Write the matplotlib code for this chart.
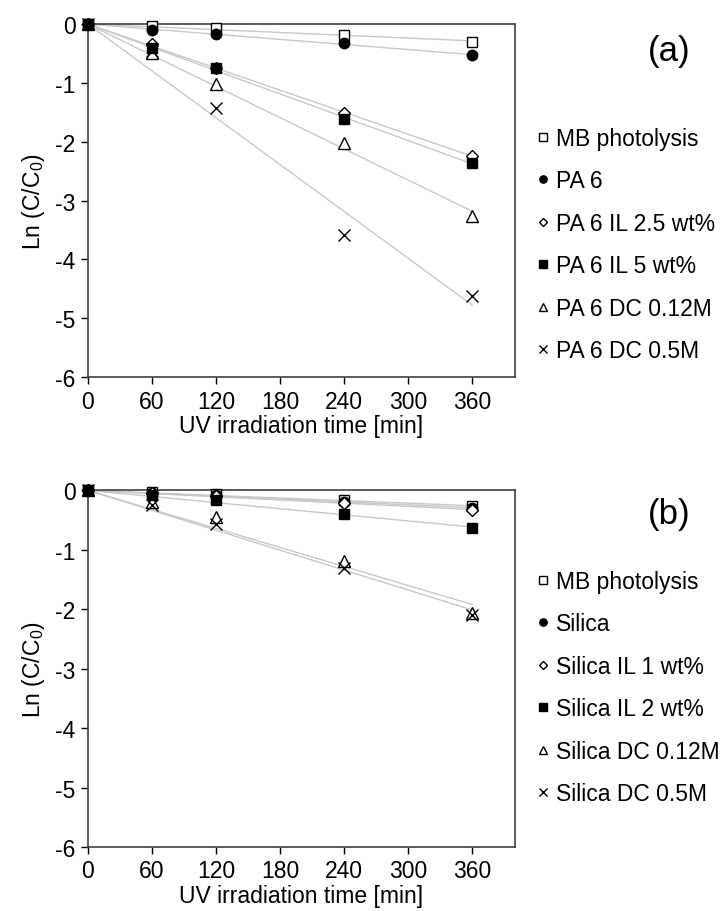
import numpy as np
import matplotlib
matplotlib.use("Agg")
import matplotlib.pyplot as plt

plt.rcParams['font.family'] = ['Liberation Sans', 'DejaVu Sans']
plt.rcParams['mathtext.fontset'] = 'custom'
plt.rcParams['mathtext.rm'] = 'Liberation Sans'
plt.rcParams['mathtext.default'] = 'regular'

time = [0, 60, 120, 240, 360]

labels_a = ["MB photolysis", "PA 6", "PA 6 IL 2.5 wt%", "PA 6 IL 5 wt%",
            "PA 6 DC 0.12M", "PA 6 DC 0.5M"]
mb_a = [0, -0.03, -0.06, -0.19, -0.30]
pa6 = [0, -0.10, -0.17, -0.33, -0.53]
pa6_il25 = [0, -0.34, -0.75, -1.52, -2.24]
pa6_il5 = [0, -0.41, -0.75, -1.61, -2.37]
pa6_dc012 = [0, -0.50, -1.02, -2.02, -3.27]
pa6_dc05 = [0, -0.46, -1.43, -3.59, -4.62]

labels_b = ["MB photolysis", "Silica", "Silica IL 1 wt%", "Silica IL 2 wt%",
            "Silica DC 0.12M", "Silica DC 0.5M"]
mb_b = [0, -0.03, -0.06, -0.17, -0.27]
silica = [0, -0.05, -0.08, -0.19, -0.30]
silica_il1 = [0, -0.05, -0.10, -0.21, -0.33]
silica_il2 = [0, -0.08, -0.17, -0.40, -0.64]
silica_dc012 = [0, -0.20, -0.45, -1.18, -2.07]
silica_dc05 = [0, -0.24, -0.57, -1.30, -2.09]

series_a = [mb_a, pa6, pa6_il25, pa6_il5, pa6_dc012, pa6_dc05]
series_b = [mb_b, silica, silica_il1, silica_il2, silica_dc012, silica_dc05]

styles = [
    dict(marker='s', mfc='white', mec='black', ms=7.5, mew=1.0),
    dict(marker='o', mfc='black', mec='black', ms=7.5, mew=1.0),
    dict(marker='D', mfc='white', mec='black', ms=6.5, mew=1.0),
    dict(marker='s', mfc='black', mec='black', ms=7.5, mew=1.0),
    dict(marker='^', mfc='white', mec='black', ms=8, mew=1.0),
    dict(marker='x', mfc='black', mec='black', ms=8.5, mew=1.0),
]
zorders = [3, 3, 3, 5, 3, 3]

FS = 16.5

fig = plt.figure(figsize=(7.23, 9.12), dpi=100)
ax_a = fig.add_axes([0.1217, 0.5855, 0.5906, 0.387])
ax_b = fig.add_axes([0.1217, 0.0702, 0.5906, 0.391])

t = np.array(time, dtype=float)

def draw(ax, series, labels, letter, tag_y, leg_top):
    handles = []
    for ys in series:
        y = np.array(ys, dtype=float)
        k = np.sum(t * y) / np.sum(t * t)
        ax.plot([0, 360], [0, k * 360], color='#c8c8c8', lw=1.0, zorder=1)
    for ys, st, lab, z in zip(series, styles, labels, zorders):
        h, = ax.plot(time, ys, linestyle='none', label=lab, zorder=z,
                     clip_on=False, **st)
        handles.append(h)
    ax.set_xlim(0, 400)
    ax.set_ylim(-6, 0)
    ax.set_xticks([0, 60, 120, 180, 240, 300, 360])
    ax.set_yticks([-6, -5, -4, -3, -2, -1, 0])
    ax.set_yticklabels(['-6', '-5', '-4', '-3', '-2', '-1', '0'])
    ax.tick_params(direction='out', length=5, width=1, labelsize=FS, pad=4)
    for s in ax.spines.values():
        s.set_linewidth(1.2)
        s.set_color('#404040')
    ax.set_xlabel('UV irradiation time [min]', fontsize=FS, labelpad=1)
    ax.set_ylabel('Ln (C/C$_0$)', fontsize=FS, labelpad=6)
    fig.text(0.926, tag_y, '(' + letter + ')', fontsize=25,
             ha='center', va='center')
    fig.legend(handles=handles, loc='upper left', bbox_to_anchor=(0.741, leg_top),
               frameon=False, fontsize=FS, markerscale=0.7, handlelength=0.6,
               handletextpad=0.3, labelspacing=0.85, borderaxespad=0, borderpad=0)

draw(ax_a, series_a, labels_a, 'a', 1 - 52 / 912, 1 - 128 / 912)
draw(ax_b, series_b, labels_b, 'b', 1 - 515 / 912, 1 - 571 / 912)

fig.savefig('out.png', dpi=100)
